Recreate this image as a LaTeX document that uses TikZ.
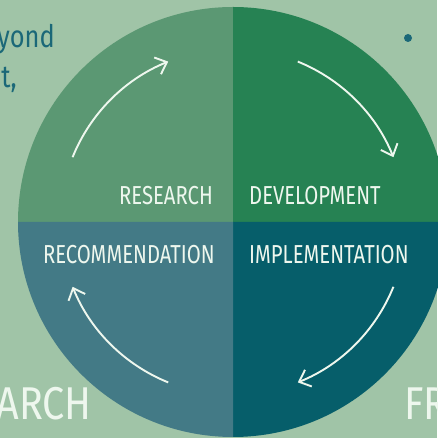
\documentclass[tikz,border=0pt]{standalone}
\usepackage{fontspec}
\setmainfont{Fira Sans}
\newfontfamily\stagefont[FakeStretch=0.78]{Fira Sans}
\newfontfamily\bigfont[FakeStretch=0.86]{Fira Sans}
\newfontfamily\tealfont[FakeStretch=0.82]{Fira Sans}
\usetikzlibrary{arrows.meta,calc}
\definecolor{bgsage}{HTML}{A0C4A7}
\definecolor{qresearch}{HTML}{5B9873}
\definecolor{qdevelop}{HTML}{268253}
\definecolor{qrecommend}{HTML}{437A86}
\definecolor{qimplement}{HTML}{065E6A}
\definecolor{inkteal}{HTML}{1B6878}
\definecolor{paleink}{HTML}{EEF7EE}
\tikzset{cyclearrow/.style={draw=paleink,line width=1.9pt,-{Straight Barb[length=10pt,width=18pt,line width=1.9pt]}},
stagelabel/.style={text=paleink,font=\stagefont\fontsize{26}{26}\selectfont,inner sep=0pt},
edgeword/.style={text=paleink,font=\bigfont\fontsize{46}{46}\selectfont,inner sep=0pt,anchor=base west},
tealword/.style={text=inkteal,font=\tealfont\fontsize{31}{31}\selectfont,inner sep=0pt,anchor=base east}}

\begin{document}
\begin{tikzpicture}[x=1pt,y=1pt]
\useasboundingbox (0,0) rectangle (437,438);
\fill[bgsage] (0,0) rectangle (437,438);
\coordinate (c) at (233,216);
% quadrants
\fill[qresearch] (c) -- ++(180:215) arc (180:90:215) -- cycle;
\fill[qdevelop] (c) -- ++(90:215) arc (90:0:215) -- cycle;
\fill[qimplement] (c) -- ++(0:215) arc (0:-90:215) -- cycle;
\fill[qrecommend] (c) -- ++(-90:215) arc (-90:-180:215) -- cycle;
% cycle arrows
\foreach \a in {158,68,-22,-112}
\draw[cyclearrow] ($(c)+(\a:173)$) arc (\a:\a-46:173);
% stages
\node[stagelabel,anchor=east] (research) at (213,242) {RESEARCH};
\node[stagelabel,anchor=west] (development) at (249,242) {DEVELOPMENT};
\node[stagelabel,anchor=east] (recommendation) at (215,183) {RECOMMENDATION};
\node[stagelabel,anchor=west] (implementation) at (249,183) {IMPLEMENTATION};
% cut-off text round the edges
\node[tealword] (yond) at (55,390) {yond};
\node[tealword] (tcomma) at (17,350) {t,};
\fill[inkteal] (408,400) circle (4);
\node[edgeword,anchor=base east] (arch) at (92,18) {ARCH};
\node[edgeword] (fr) at (404,18) {FR};
\end{tikzpicture}
\end{document}
